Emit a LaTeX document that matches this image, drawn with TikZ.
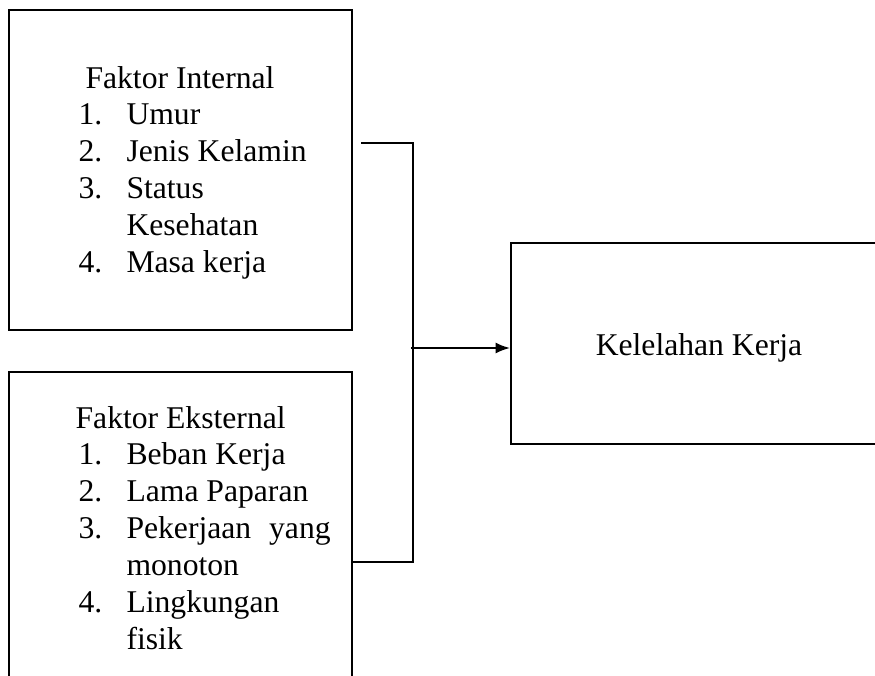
\documentclass[tikz,border=0pt]{standalone}
\usepackage{fontspec}
\setmainfont{Liberation Serif}
\usetikzlibrary{arrows.meta}
\usetikzlibrary{fit}
\tikzset{
    box/.style={draw, line width=0.75pt, inner sep=0pt, rectangle},
    wire/.style={line width=0.4pt},
    arr/.style={line width=0.75pt, -{Latex[length=5.5pt,width=4.2pt]}},
    txt/.style={inner sep=0pt, font=\fontsize{12}{14}\selectfont}
}
\begin{document}
\begin{tikzpicture}[x=0.3792pt,y=-0.3792pt]

    \useasboundingbox (0,0) rectangle (875,676);
    \clip (0,0) rectangle (875,676);

    % boxes
    \node[box, fit={(9,10) (352,330)}] (bxint) {};
    \node[box, fit={(9,372) (352,720)}] (bxext) {};
    \node[box, fit={(511,243) (900,444)}] (bxout) {};

    % texts
    \node[txt, anchor=base west] (lsint) at (78,88) {%
        \begin{tabular}[t]{@{}p{18.2pt}@{}l@{}}
        \multicolumn{2}{@{\hspace{2.65pt}}l@{}}{Faktor Internal}\\
        1. & Umur\\
        2. & Jenis Kelamin\\
        3. & Status\\
           & Kesehatan\\
        4. & Masa kerja
        \end{tabular}};
    \node[txt, anchor=base west] (lsext) at (78,428) {%
        \begin{tabular}[t]{@{}p{18.2pt}@{}l@{}}
        \multicolumn{2}{@{\hspace{-1.1pt}}l@{}}{Faktor Eksternal}\\
        1. & Beban Kerja\\
        2. & Lama Paparan\\
        3. & \makebox[77.4pt][l]{Pekerjaan\hfill yang}\\
           & monoton\\
        4. & Lingkungan\\
           & fisik
        \end{tabular}};
    \node[txt, anchor=base] (lbout) at (699,355) {Kelelahan Kerja};

    % connectors
    \coordinate (inttap) at (361,143);
    \coordinate (exttap) at (352,562);
    \coordinate (join) at (413,348);
    \draw[wire] (inttap) -- (inttap -| join) -- (join |- exttap) -- (exttap);
    \draw[arr] ([xshift=-0.8pt]join) -- (bxout.west |- join);

\end{tikzpicture}
\end{document}
